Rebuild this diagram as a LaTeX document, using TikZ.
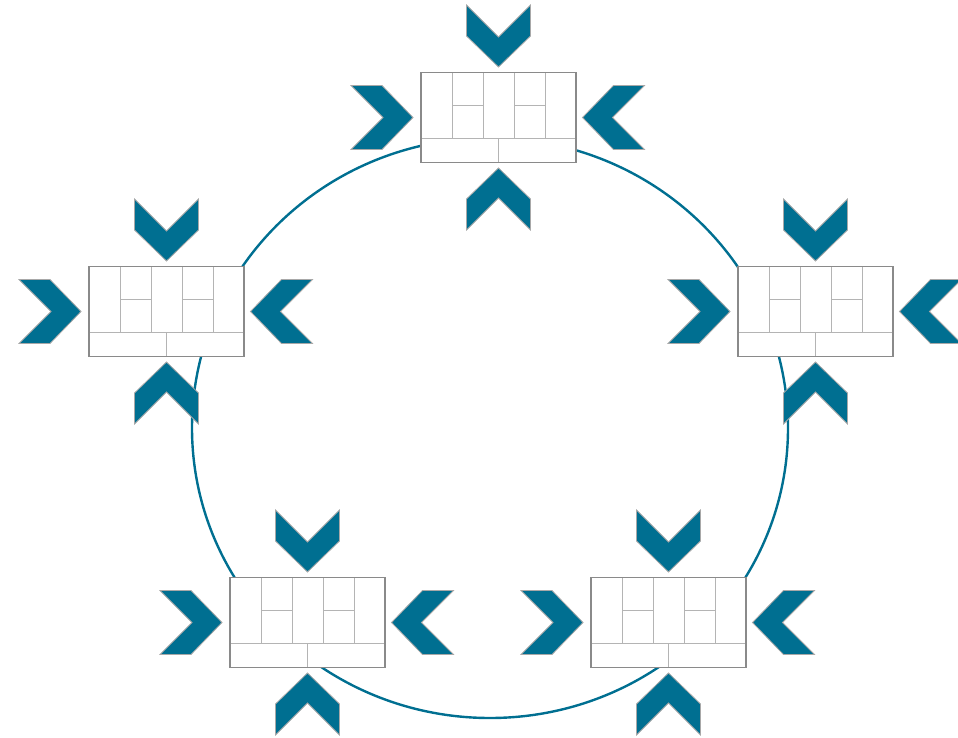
\documentclass[tikz,border=0pt]{standalone}
\usepackage{xcolor}
\usepackage{tikz}
\usetikzlibrary{
  calc,
  positioning
}
\definecolor{cyTeal}{HTML}{006F91}
\definecolor{cyEdge}{HTML}{8A8A8A}
\definecolor{cyGrid}{HTML}{B4B4B4}
\definecolor{cyHalo}{HTML}{A8A8A8}
\tikzset{
  ring/.style={draw=cyTeal, line width=2.4pt},
  gridline/.style={draw=cyGrid, line width=1pt},
  board/.style={
    draw=cyEdge, line width=1.4pt, fill=white, inner sep=0pt, outer sep=0pt,
    minimum width=155pt, minimum height=90pt
  },
  cells/.pic={
    \draw[gridline] (31,0) -- (31,66) (62,0) -- (62,66)
      (93.5,0) -- (93.5,66) (124.5,0) -- (124.5,66)
      (31,33) -- (62,33) (93.5,33) -- (124.5,33)
      (0,66) -- (155,66) (77.5,66) -- (77.5,90);
  },
  chev/.pic={
    \filldraw[fill=cyTeal, draw=cyHalo, line width=0.8pt, line join=miter]
      (-32,-31) -- (0,1) -- (32,-31) -- (32,0) -- (0,31) -- (-32,0) -- cycle;
  }
}
\begin{document}
\begin{tikzpicture}[x=1pt, y=-1pt]
  \useasboundingbox (0,0) rectangle (958,738);
  \draw[ring] (490,428) ellipse [x radius=298pt, y radius=290pt];

  \node[board] (bTop) at (498.5,117.5) {};
  \node[board] (bLeft) at (166.5,311.5) {};
  \node[board] (bRight) at (815.5,311.5) {};
  \node[board] (bLowLeft) at (307.5,622.5) {};
  \node[board] (bLowRight) at (668.5,622.5) {};

  \pic at (bTop.north west) {cells};
  \pic at (bLeft.north west) {cells};
  \pic at (bRight.north west) {cells};
  \pic at (bLowLeft.north west) {cells};
  \pic at (bLowRight.north west) {cells};
  % redraw the frames over the cell lines
  \draw[board, fill=none] (bTop.north west) rectangle (bTop.south east);
  \draw[board, fill=none] (bLeft.north west) rectangle (bLeft.south east);
  \draw[board, fill=none] (bRight.north west) rectangle (bRight.south east);
  \draw[board, fill=none] (bLowLeft.north west) rectangle (bLowLeft.south east);
  \draw[board, fill=none] (bLowRight.north west) rectangle (bLowRight.south east);

  % chevrons, all pointing at their board
  \pic at ($(bTop)+(0,-81.5)$) {chev};
  \pic[rotate=180] at ($(bTop)+(0,81.5)$) {chev};
  \pic[rotate=90] at ($(bTop)+(-116.5,0)$) {chev};
  \pic[rotate=-90] at ($(bTop)+(115,0)$) {chev};

  \pic at ($(bLeft)+(0,-81.5)$) {chev};
  \pic[rotate=180] at ($(bLeft)+(0,81.5)$) {chev};
  \pic[rotate=90] at ($(bLeft)+(-116.5,0)$) {chev};
  \pic[rotate=-90] at ($(bLeft)+(115,0)$) {chev};

  \pic at ($(bRight)+(0,-81.5)$) {chev};
  \pic[rotate=180] at ($(bRight)+(0,81.5)$) {chev};
  \pic[rotate=90] at ($(bRight)+(-116.5,0)$) {chev};
  \pic[rotate=-90] at ($(bRight)+(115,0)$) {chev};

  \pic at ($(bLowLeft)+(0,-81.5)$) {chev};
  \pic[rotate=180] at ($(bLowLeft)+(0,81.5)$) {chev};
  \pic[rotate=90] at ($(bLowLeft)+(-116.5,0)$) {chev};
  \pic[rotate=-90] at ($(bLowLeft)+(115,0)$) {chev};

  \pic at ($(bLowRight)+(0,-81.5)$) {chev};
  \pic[rotate=180] at ($(bLowRight)+(0,81.5)$) {chev};
  \pic[rotate=90] at ($(bLowRight)+(-116.5,0)$) {chev};
  \pic[rotate=-90] at ($(bLowRight)+(115,0)$) {chev};
\end{tikzpicture}
\end{document}
